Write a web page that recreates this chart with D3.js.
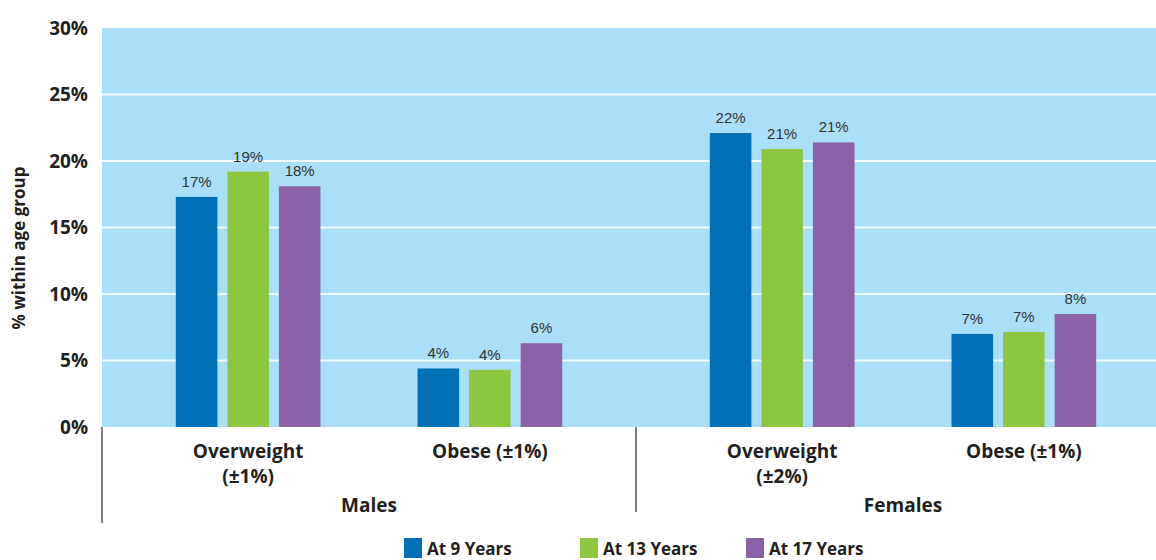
<!DOCTYPE html>
<html>
<head>
<meta charset="utf-8">
<script src="https://cdn.jsdelivr.net/npm/d3@7"></script>
<style>
  body { margin: 0; background: #fff; }
  svg { display: block; }
</style>
</head>
<body>
<div class="chart"></div>
<script>
var width = 1156, height = 560;
var font = "'Open Sans', 'Noto Sans', sans-serif";
var labelFont = "'Liberation Sans', Arial, sans-serif";

// data
var sexes = ["Males", "Females"];
var measures = ["Overweight", "Obese"];
var measureLabels = {
  Males: [["Overweight", "(±1%)"], ["Obese (±1%)"]],
  Females: [["Overweight", "(±2%)"], ["Obese (±1%)"]]
};
var ages = ["At 9 Years", "At 13 Years", "At 17 Years"];
var colours = ["#0070b8", "#8dc63f", "#8b61a9"];
var valueLabels = {
  Males: [["17%", "19%", "18%"], ["4%", "4%", "6%"]],
  Females: [["22%", "21%", "21%"], ["7%", "7%", "8%"]]
};
// bar heights
var values = {
  Males: [[17.3, 19.2, 18.1], [4.4, 4.3, 6.3]],
  Females: [[22.1, 20.9, 21.4], [7.0, 7.15, 8.5]]
};
var yTicks = [0, 5, 10, 15, 20, 25, 30];

var plot = {left: 102, right: 1156, top: 28, bottom: 427};

var svg = d3.select(".chart")
  .append("svg")
    .attr("width", width)
    .attr("height", height);

// scales
const y = d3.scaleLinear()
  .domain([0, 30])
  .range([plot.bottom, plot.top]);

const x0 = d3.scaleBand()
  .domain(sexes)
  .range([plot.left, 1170]);

const x1 = d3.scaleBand()
  .domain(measures)
  .range([0, x0.bandwidth()])
  .paddingInner(0.359)
  .paddingOuter(0.284);

const x2 = d3.scaleBand()
  .domain(ages)
  .range([0, x1.bandwidth()])
  .paddingInner(0.194)
  .paddingOuter(0.1);

// background
svg.append("rect")
  .attr("x", plot.left)
  .attr("y", plot.top)
  .attr("width", plot.right - plot.left)
  .attr("height", plot.bottom - plot.top)
  .attr("fill", "#a9dff8");

// grid lines
svg.append("g")
  .selectAll("line")
  .data(yTicks.filter(d => d > 0 && d < 30))
  .join("line")
    .attr("x1", plot.left)
    .attr("x2", plot.right)
    .attr("y1", d => y(d))
    .attr("y2", d => y(d))
    .attr("stroke", "#f2fbff")
    .attr("stroke-width", 2);

// y tick labels
svg.append("g")
  .selectAll("text")
  .data(yTicks)
  .join("text")
    .attr("x", 88)
    .attr("y", d => y(d))
    .attr("dy", "0.35em")
    .attr("text-anchor", "end")
    .attr("font-family", font)
    .attr("font-weight", "bold")
    .attr("font-size", 19)
    .attr("fill", "#231f20")
    .text(d => d + "%");

// y title
svg.append("text")
  .attr("transform", "translate(25,248)rotate(-90)")
  .attr("text-anchor", "middle")
  .attr("font-family", font)
  .attr("font-weight", "bold")
  .attr("font-size", 17)
  .attr("fill", "#231f20")
  .text("% within age group");

// bars
var flat = [];
sexes.forEach(s => measures.forEach((m, mi) => ages.forEach((a, ai) => {
  flat.push({sex: s, measure: m, mi: mi, age: a, ai: ai,
    value: values[s][mi][ai], label: valueLabels[s][mi][ai]});
})));

var bx = d => x0(d.sex) + x1(d.measure) + x2(d.age);

svg.append("g")
  .selectAll("rect")
  .data(flat)
  .join("rect")
    .attr("x", bx)
    .attr("y", d => y(d.value))
    .attr("width", x2.bandwidth())
    .attr("height", d => y(0) - y(d.value))
    .attr("fill", d => colours[d.ai]);

svg.append("g")
  .selectAll("text")
  .data(flat)
  .join("text")
    .attr("x", d => bx(d) + x2.bandwidth() / 2)
    .attr("y", d => y(d.value) - 10)
    .attr("text-anchor", "middle")
    .attr("font-family", labelFont)
    .attr("font-size", 15)
    .attr("fill", "#333")
    .text(d => d.label);

// category axis
svg.append("line")
  .attr("x1", plot.left).attr("x2", plot.left)
  .attr("y1", plot.bottom).attr("y2", 523)
  .attr("stroke", "#555").attr("stroke-width", 1.5);

svg.append("line")
  .attr("x1", x0("Females")).attr("x2", x0("Females"))
  .attr("y1", plot.bottom).attr("y2", 512)
  .attr("stroke", "#555").attr("stroke-width", 1.5);

sexes.forEach(s => {
  measures.forEach((m, mi) => {
    var cx = x0(s) + x1(m) + x1.bandwidth() / 2;
    svg.append("g")
      .selectAll("text")
      .data(measureLabels[s][mi])
      .join("text")
        .attr("x", cx)
        .attr("y", (d, i) => 458 + i * 25)
        .attr("text-anchor", "middle")
        .attr("font-family", font)
        .attr("font-weight", "bold")
        .attr("font-size", 19)
        .attr("fill", "#231f20")
        .text(d => d);
  });
  svg.append("text")
    .attr("x", x0(s) + x0.bandwidth() / 2)
    .attr("y", 512)
    .attr("text-anchor", "middle")
    .attr("font-family", font)
    .attr("font-weight", "bold")
    .attr("font-size", 19)
    .attr("fill", "#231f20")
    .text(s);
});

// legend
var legendX = [404, 580, 746];
var legend = svg.append("g")
  .selectAll("g")
  .data(ages)
  .join("g")
    .attr("transform", (d, i) => `translate(${legendX[i]},538)`);

legend.append("rect")
  .attr("width", 18)
  .attr("height", 20)
  .attr("fill", (d, i) => colours[i]);

legend.append("text")
  .attr("x", 23)
  .attr("y", 17)
  .attr("font-family", font)
  .attr("font-weight", "bold")
  .attr("font-size", 17)
  .attr("fill", "#231f20")
  .text(d => d);
</script>
</body>
</html>
